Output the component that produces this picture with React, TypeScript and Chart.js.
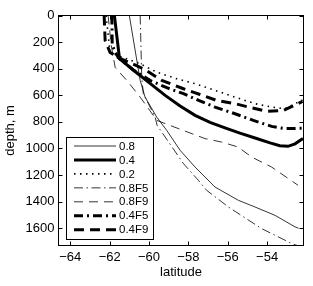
import React, { useEffect, useRef } from "react";
import { Chart, registerables } from "chart.js";

Chart.register(...registerables);

// ---- data (latitude, depth in m) ----
const seriesLabels = ["0.8", "0.4", "0.2", "0.8F5", "0.8F9", "0.4F5", "0.4F9"];

const lat08 = [-61.0, -60.45, -60.2, -59.61, -59.1, -58.42, -57.66, -56.65, -55.46, -54.62, -53.6, -52.58, -52.4];
const depth08 = [0, 488, 614, 764, 864, 1014, 1140, 1290, 1390, 1440, 1503, 1590, 1600];

const lat04 = [-61.76, -61.5, -60.71, -59.95, -59.18, -58.42, -57.66, -56.9, -56.14, -55.38, -54.61, -53.85, -53.35, -52.94, -52.58, -52.18];
const depth04 = [0, 325, 421, 511, 601, 680, 751, 804, 845, 885, 921, 958, 980, 984, 965, 925];

const lat02 = [-62.18, -61.98, -61.32, -60.45, -59.61, -58.59, -57.66, -56.65, -55.63, -54.62, -53.77, -53.09, -52.58, -52.2];
const depth02 = [0, 278, 316, 363, 426, 476, 513, 563, 614, 663, 689, 701, 663, 636];

const lat08F5 = [-60.45, -60.37, -60.29, -59.69, -59.59, -58.25, -57.49, -57.07, -55.97, -54.28, -52.75, -52.3];
const depth08F5 = [0, 463, 588, 764, 826, 1114, 1240, 1315, 1440, 1603, 1715, 1740];

const lat08F9 = [-62.08, -61.92, -61.72, -61.13, -60.45, -59.6, -58.68, -57.15, -56.31, -55.48, -54.78, -53.77, -52.67, -52.43];
const depth08F9 = [0, 225, 391, 488, 614, 789, 841, 926, 952, 989, 1065, 1140, 1252, 1277];

const lat04F5 = [-61.89, -61.87, -61.57, -60.8, -59.95, -59.1, -58.25, -57.45, -56.65, -55.63, -54.7, -53.77, -53.09, -52.53, -52.2];
const depth04F5 = [0, 225, 316, 410, 488, 543, 588, 640, 689, 739, 789, 834, 851, 849, 849];

const lat04F9 = [-62.28, -62.23, -61.98, -61.47, -60.29, -59.35, -58.25, -57.41, -56.56, -55.63, -54.78, -54.02, -53.18, -52.42, -52.2];
const depth04F9 = [0, 188, 278, 323, 400, 488, 551, 594, 639, 663, 695, 721, 714, 663, 646];

const xTickValues = [-64, -62, -60, -58, -56, -54];
const xTickLabels = ["\u221264", "\u221262", "\u221260", "\u221258", "\u221256", "\u221254"];
const yTickValues = [0, 200, 400, 600, 800, 1000, 1200, 1400, 1600];
const yTickLabels = ["0", "200", "400", "600", "800", "1000", "1200", "1400", "1600"];

// ---- styles ----
const lineWidths = [0.8, 3, 1.6, 0.8, 0.8, 3, 3];
const lineDashes: number[][] = [[], [], [1.5, 4.5], [9, 3.5, 1.5, 3.5], [9, 6], [9, 4, 2, 4], [10, 6]];

const FONT = "'Liberation Sans', Arial, Helvetica, sans-serif";

function pts(lat: number[], depth: number[]) {
  return lat.map((x, i) => ({ x, y: depth[i] }));
}

const seriesData = [
  pts(lat08, depth08),
  pts(lat04, depth04),
  pts(lat02, depth02),
  pts(lat08F5, depth08F5),
  pts(lat08F9, depth08F9),
  pts(lat04F5, depth04F5),
  pts(lat04F9, depth04F9),
];

const framePlugin = {
  id: "matlabFrame",
  afterDatasetsDraw(chart: any) {
    const { ctx, chartArea, scales } = chart;
    const { left, right, top, bottom } = chartArea;
    ctx.save();
    ctx.strokeStyle = "#000";
    ctx.lineWidth = 1;
    ctx.setLineDash([]);
    ctx.strokeRect(left, top, right - left, bottom - top);
    const L = 4;
    ctx.beginPath();
    for (const v of xTickValues) {
      const px = Math.round(scales.x.getPixelForValue(v)) + 0.5;
      ctx.moveTo(px, bottom);
      ctx.lineTo(px, bottom - L);
      ctx.moveTo(px, top);
      ctx.lineTo(px, top + L);
    }
    for (const v of yTickValues) {
      const py = Math.round(scales.y.getPixelForValue(v)) + 0.5;
      ctx.moveTo(left, py);
      ctx.lineTo(left + L, py);
      ctx.moveTo(right, py);
      ctx.lineTo(right - L, py);
    }
    ctx.stroke();

    // legend box
    const bx = 66.5, by = 137.5, bw = 87, bh = 102;
    ctx.fillStyle = "#fff";
    ctx.fillRect(bx, by, bw, bh);
    ctx.strokeRect(bx, by, bw, bh);
    ctx.font = "11.5px " + FONT;
    ctx.textBaseline = "middle";
    ctx.textAlign = "left";
    chart.data.datasets.forEach((ds: any, i: number) => {
      const y = 146 + i * 13.95;
      ctx.beginPath();
      ctx.lineWidth = ds.borderWidth;
      ctx.setLineDash(ds.borderDash || []);
      ctx.strokeStyle = ds.borderColor;
      ctx.moveTo(74, y);
      ctx.lineTo(116, y);
      ctx.stroke();
      ctx.setLineDash([]);
      ctx.fillStyle = "#000";
      ctx.fillText(ds.label, 119, y + 0.5);
    });
    ctx.restore();
  },
};

export default function App() {
  const ref = useRef<HTMLCanvasElement | null>(null);
  useEffect(() => {
    if (!ref.current) return;
    Chart.defaults.font.family = FONT;
    Chart.defaults.color = "#000";
    const chart = new Chart(ref.current, {
      type: "line",
      data: {
        datasets: seriesData.map((d, i) => ({
          label: seriesLabels[i],
          data: d,
          borderColor: "#000",
          backgroundColor: "#000",
          borderWidth: lineWidths[i],
          borderDash: lineDashes[i],
          pointRadius: 0,
          tension: 0,
          fill: false,
        })),
      },
      options: {
        animation: false,
        responsive: false,
        parsing: true,
        layout: { padding: { top: 15.5, right: 9.5, left: 0, bottom: 0 } },
        plugins: { legend: { display: false }, tooltip: { enabled: false } },
        scales: {
          x: {
            type: "linear",
            min: -64.6,
            max: -52.15,
            grid: { display: false, drawTicks: false },
            border: { display: false },
            ticks: {
              padding: 4,
              font: { size: 13 },
              color: "#000",
              maxRotation: 0,
              callback: (v: any) => {
                const i = xTickValues.indexOf(Number(v));
                return i >= 0 ? xTickLabels[i] : "";
              },
            },
            afterBuildTicks: (s: any) => {
              s.ticks = xTickValues.map((v) => ({ value: v }));
            },
            afterFit: (s: any) => {
              s.height = 40.5;
            },
            title: { display: true, text: "latitude", font: { size: 13 }, color: "#000", padding: { top: 0, bottom: 6 } },
          },
          y: {
            type: "linear",
            reverse: true,
            min: 0,
            max: 1730,
            grid: { display: false, drawTicks: false },
            border: { display: false },
            ticks: {
              padding: 4,
              font: { size: 13 },
              color: "#000",
              callback: (v: any) => {
                const i = yTickValues.indexOf(Number(v));
                return i >= 0 ? yTickLabels[i] : "";
              },
            },
            afterBuildTicks: (s: any) => {
              s.ticks = yTickValues.map((v) => ({ value: v }));
            },
            afterFit: (s: any) => {
              s.width = 58.5;
            },
            title: { display: true, text: "depth, m", font: { size: 13 }, color: "#000", padding: { top: 3, bottom: 0 } },
          },
        },
      },
      plugins: [framePlugin],
    } as any);
    return () => chart.destroy();
  }, []);
  return (
    <div style={{ position: "fixed", left: 0, top: 0, width: 313, height: 286, background: "#fff" }}>
      <canvas ref={ref} width={313} height={286} />
    </div>
  );
}
